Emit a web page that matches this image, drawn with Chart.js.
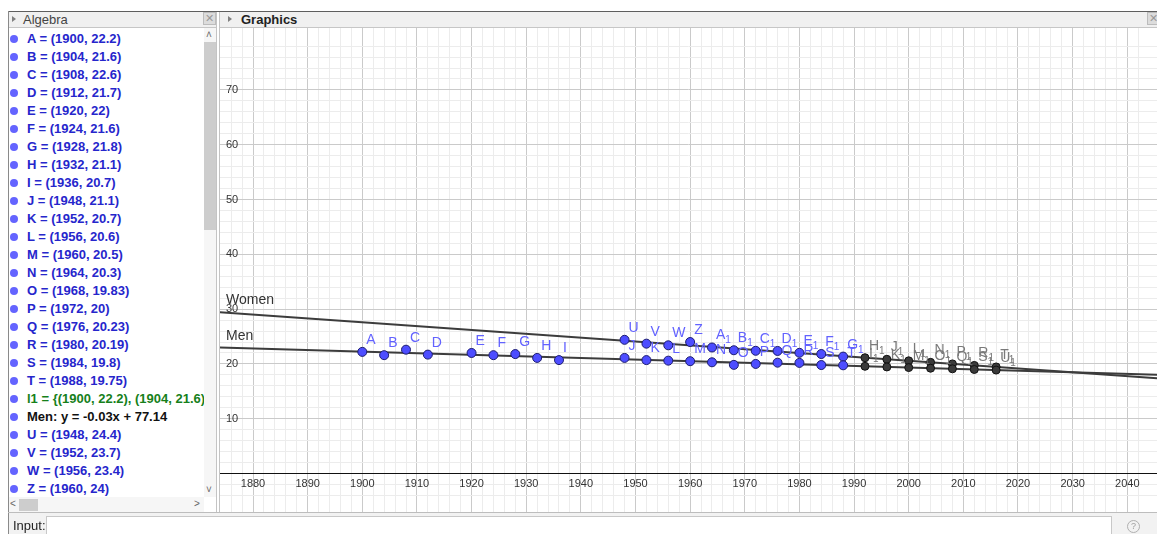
<!DOCTYPE html>
<html>
<head>
<meta charset="utf-8">
<script src="https://cdn.jsdelivr.net/npm/chart.js@4.4.1/dist/chart.umd.min.js"></script>
<style>
  body { margin: 0; width: 1157px; height: 534px; overflow: hidden; background: #fff;
         font-family: "Liberation Sans", Arial, sans-serif; position: relative; }
  .abs { position: absolute; }
  #topline { left: 8px; top: 11px; width: 1149px; height: 1px; background: #5e5e5e; }
  #algborder { left: 8px; top: 11px; width: 1px; height: 523px; background: #8a8a8a; }
  .hdr { top: 12px; height: 15px; background: #f0f0f0; border-bottom: 1px solid #c6c6c6; font-size: 13px; line-height: 15px; color: #444; }
  .tri { position: absolute; top: 4px; width: 0; height: 0; border-top: 3.5px solid transparent;
         border-bottom: 3.5px solid transparent; border-left: 4px solid #808080; }
  .xbox { position: absolute; top: 0; width: 11px; height: 11px; background: #dcdcdc; border: 1px solid #bcbcbc;
          color: #999; font-size: 11px; line-height: 11px; text-align: center; }
  #rows { left: 9px; top: 28px; width: 195px; height: 469px; overflow: hidden; }
  .row { position: absolute; left: 0; height: 18px; white-space: nowrap; font-weight: bold; font-size: 13px; line-height: 18px; color: #2626cc; }
  .row .dot { position: absolute; left: 1px; top: 5px; width: 8px; height: 8px; border-radius: 50%; background: #6464ff; }
  .row span.t { position: absolute; left: 18px; }
  #vscroll { left: 204px; top: 28px; width: 12px; height: 469px; background: #f6f6f6; }
  #vthumb { left: 204px; top: 42px; width: 12px; height: 188px; background: #cdcdcd; }
  #hscroll { left: 9px; top: 497px; width: 195px; height: 15px; background: #f6f6f6; }
  #hthumb { left: 19px; top: 499px; width: 19px; height: 12px; background: #cdcdcd; }
  .arr { color: #666; font-size: 10px; }
  #sep1 { left: 216px; top: 12px; width: 1px; height: 501px; background: #c4c4c4; }
  #sep2 { left: 219px; top: 12px; width: 1px; height: 501px; background: #c4c4c4; }
  #chartbox { left: 220px; top: 28px; width: 937px; height: 485px; }
  #botline { left: 8px; top: 512px; width: 1149px; height: 1px; background: #bdbdbd; }
  #inputbar { left: 9px; top: 513px; width: 1148px; height: 21px; background: #f2f2f2; }
  #inputlbl { left: 13px; top: 518px; font-size: 13px; color: #222; }
  #inputfld { left: 46px; top: 516px; width: 1064px; height: 20px; background: #fff; border: 1px solid #c8c8c8; }
  #help { left: 1127px; top: 520px; width: 11px; height: 11px; border: 1px solid #b0b0b0; border-radius: 50%;
          font-size: 9px; line-height: 11px; text-align: center; color: #a0a0a0; }
</style>
</head>
<body>
<div class="abs" id="topline"></div>
<div class="abs" id="algborder"></div>

<div class="abs hdr" style="left:9px; width:207px;">
  <div class="tri" style="left:3px;"></div>
  <span style="position:absolute; left:14px;">Algebra</span>
  <div class="xbox" style="left:194px;">&#x2715;</div>
</div>
<div class="abs" id="rows"></div>
<div class="abs" id="vscroll"></div>
<div class="abs" id="vthumb"></div>
<div class="abs arr" style="left:206px; top:29px;">&#x02C4;</div>
<div class="abs arr" style="left:206px; top:484px;">&#x02C5;</div>
<div class="abs" id="hscroll"></div>
<div class="abs" id="hthumb"></div>
<div class="abs arr" style="left:10px; top:498px;">&lt;</div>
<div class="abs arr" style="left:194px; top:498px;">&gt;</div>

<div class="abs" id="sep1"></div>
<div class="abs" id="sep2"></div>

<div class="abs hdr" style="left:220px; width:937px;">
  <div class="tri" style="left:8px;"></div>
  <span style="position:absolute; left:21px; font-weight:bold; color:#222;">Graphics</span>
  <div class="xbox" style="left:927px;">&#x2715;</div>
</div>

<div class="abs" id="chartbox"><canvas id="myChart" width="937" height="485"></canvas></div>

<div class="abs" id="botline"></div>
<div class="abs" id="inputbar"></div>
<div class="abs" id="inputlbl">Input:</div>
<div class="abs" id="inputfld"></div>
<div class="abs" id="help">?</div>

<script>
// men's winning times (blue points A..T)
const menYears = [1900, 1904, 1908, 1912, 1920, 1924, 1928, 1932, 1936, 1948, 1952,
  1956, 1960, 1964, 1968, 1972, 1976, 1980, 1984, 1988];
const menTimes = [22.2, 21.6, 22.6, 21.7, 22, 21.6, 21.8, 21.1, 20.7, 21.1, 20.7,
  20.6, 20.5, 20.3, 19.83, 20, 20.23, 20.19, 19.8, 19.75];
const menLabels = ['A', 'B', 'C', 'D', 'E', 'F', 'G', 'H', 'I', 'J', 'K',
  'L', 'M', 'N', 'O', 'P', 'Q', 'R', 'S', 'T'];

// women's winning times (blue points U..G1)
const womenYears = [1948, 1952, 1956, 1960, 1964, 1968, 1972, 1976, 1980, 1984, 1988];
const womenTimes = [24.4, 23.7, 23.4, 24, 23.0, 22.5, 22.4, 22.37, 22.03, 21.81, 21.34];
const womenLabels = ['U', 'V', 'W', 'Z', 'A1', 'B1', 'C1', 'D1', 'E1', 'F1', 'G1'];

// grey predicted points on the fitted lines
const predYears = [1992, 1996, 2000, 2004, 2008, 2012, 2016];
const menPred = [19.57, 19.45, 19.34, 19.22, 19.11, 18.99, 18.88];
const womenPred = [21.13, 20.85, 20.57, 20.29, 20.01, 19.73, 19.45];
const menPredLabels = ['I1', 'K1', 'M1', 'O1', 'Q1', 'S1', 'U1'];
const womenPredLabels = ['H1', 'J1', 'L1', 'N1', 'P1', 'R1', 'T1'];

// fitted lines, end points past the view
const lineYears = [1860, 2060];
const menLine = [23.39, 17.61];
const womenLine = [30.39, 16.37];

const xTicks = [1880, 1890, 1900, 1910, 1920, 1930, 1940, 1950, 1960, 1970,
  1980, 1990, 2000, 2010, 2020, 2030, 2040];
const yTicks = [10, 20, 30, 40, 50, 60, 70];

function fillAlgebra() {
  const rows = document.getElementById('rows');
  const lines = [];
  menYears.forEach((y, i) => lines.push({ t: `${menLabels[i]} = (${y}, ${menTimes[i]})` }));
  lines.push({ t: 'l1 = {' + menYears.map((y, i) => `(${y}, ${menTimes[i]})`).join(', ') + '}', c: '#16801a' });
  lines.push({ t: 'Men: y = -0.03x + 77.14', c: '#111' });
  womenYears.forEach((y, i) => lines.push({ t: `${womenLabels[i].replace('1', '<sub>1</sub>')} = (${y}, ${womenTimes[i]})` }));
  lines.forEach((l, i) => {
    const d = document.createElement('div');
    d.className = 'row';
    d.style.top = (2 + i * 18) + 'px';
    if (l.c) d.style.color = l.c;
    d.innerHTML = '<div class="dot"></div><span class="t">' + l.t + '</span>';
    rows.appendChild(d);
  });
}

function toPoints(xs, ys) {
  return xs.map((x, i) => ({ x: x, y: ys[i] }));
}

function onGrid(v) {
  return Math.abs(v - Math.round(v / 2) * 2) < 1e-6;
}

function gridColor(ctx) {
  const v = ctx.tick.value;
  if (!onGrid(v)) return 'rgba(0,0,0,0)';
  if (Math.round(v) % 10 === 0) return '#cacaca';
  return '#ececec';
}

function drawLabel(c, text, x, y, color) {
  const main = text.replace(/\d+$/, '');
  const sub = text.slice(main.length);
  c.fillStyle = color;
  c.font = '14px "Liberation Sans", Arial, sans-serif';
  c.fillText(main, x, y);
  if (sub) {
    const w = c.measureText(main).width;
    c.font = '10px "Liberation Sans", Arial, sans-serif';
    c.fillText(sub, x + w, y + 4);
  }
}

const axisLabels = {
  id: 'axisLabels',
  beforeDatasetsDraw(chart) {
    const c = chart.ctx;
    const xs = chart.scales.x;
    const ys = chart.scales.y;
    const y0 = ys.getPixelForValue(0);
    c.save();
    c.fillStyle = '#333';
    c.font = '11px "Liberation Sans", Arial, sans-serif';
    c.textAlign = 'center';
    c.textBaseline = 'middle';
    xTicks.forEach((t) => c.fillText(String(t), xs.getPixelForValue(t), y0 + 10));
    c.textAlign = 'left';
    yTicks.forEach((t) => c.fillText(String(t), chart.chartArea.left + 6, ys.getPixelForValue(t)));
    c.restore();
  },
  afterDatasetsDraw(chart) {
    const c = chart.ctx;
    c.save();
    c.textAlign = 'left';
    c.textBaseline = 'alphabetic';
    chart.data.datasets.forEach((ds, di) => {
      const meta = chart.getDatasetMeta(di);
      if (ds.pointNames) {
        meta.data.forEach((p, i) => drawLabel(c, ds.pointNames[i], p.x + 4, p.y - 8, ds.nameColor));
      }
      if (ds.lineName) {
        const a = meta.data[0];
        const b = meta.data[1];
        const lx = chart.chartArea.left;
        const ly = a.y + (b.y - a.y) * (lx - a.x) / (b.x - a.x);
        c.fillStyle = '#333';
        c.font = '14px "Liberation Sans", Arial, sans-serif';
        c.fillText(ds.lineName, lx + 6, ly - 8);
      }
    });
    c.restore();
  }
};

function drawChart() {
  const ctx = document.getElementById('myChart');
  const blue = { backgroundColor: '#4d4dff', borderColor: '#1c1c70', borderWidth: 1, pointRadius: 4.5, showLine: false, nameColor: '#6262ff' };
  const grey = { backgroundColor: '#3a3a3a', borderColor: '#111', borderWidth: 1, pointRadius: 4, showLine: false, nameColor: '#7a7a7a' };
  const fit = { borderColor: '#3c3c3c', borderWidth: 2, pointRadius: 0, showLine: true, fill: false };

  new Chart(ctx, {
    type: 'scatter',
    data: {
      datasets: [
        Object.assign({ data: toPoints(menYears, menTimes), pointNames: menLabels }, blue),
        Object.assign({ data: toPoints(womenYears, womenTimes), pointNames: womenLabels }, blue),
        Object.assign({ data: toPoints(predYears, menPred), pointNames: menPredLabels }, grey),
        Object.assign({ data: toPoints(predYears, womenPred), pointNames: womenPredLabels }, grey),
        Object.assign({ data: toPoints(lineYears, menLine), lineName: 'Men' }, fit),
        Object.assign({ data: toPoints(lineYears, womenLine), lineName: 'Women' }, fit),
      ],
    },
    options: {
      responsive: false,
      animation: false,
      layout: { padding: 0, autoPadding: false },
      plugins: { legend: { display: false }, tooltip: { enabled: false } },
      scales: {
        x: {
          type: 'linear', min: 1873.96, max: 2045.44,
          ticks: { display: false, stepSize: 2 },
          grid: { drawTicks: false, color: gridColor },
          border: { display: false },
        },
        y: {
          type: 'linear', min: -7.2, max: 81.3,
          ticks: { display: false, stepSize: 2 },
          grid: {
            drawTicks: false,
            color: (c) => (c.tick.value === 0 ? '#111' : gridColor(c)),
          },
          border: { display: false },
        },
      },
    },
    plugins: [axisLabels],
  });
}

fillAlgebra();
drawChart();
</script>
</body>
</html>
